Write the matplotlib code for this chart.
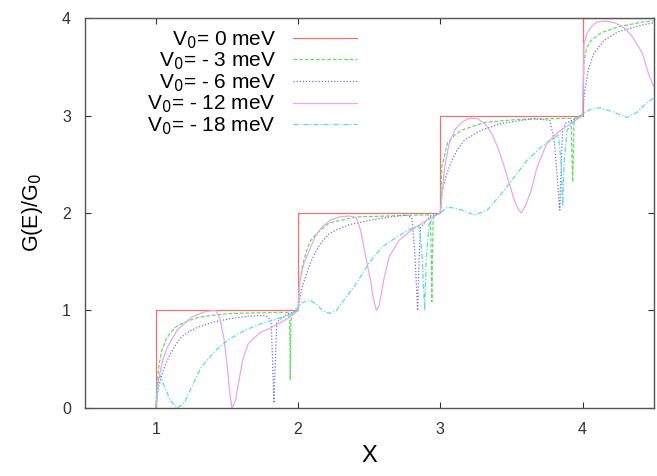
import matplotlib
matplotlib.use("Agg")
import matplotlib.pyplot as plt

plt.rcParams['font.family'] = ['Liberation Sans', 'DejaVu Sans']

# V0 = 0 meV : ideal staircase
x_v0 = [1.0, 1.0, 2.0, 2.0, 3.0, 3.0, 4.0, 4.0, 4.5]
g_v0 = [0, 1, 1, 2, 2, 3, 3, 4, 4]

# V0 = -3 meV
x_v3 = [1.0, 1.01, 1.02, 1.04, 1.07, 1.10, 1.14, 1.20, 1.30, 1.42, 1.54, 1.70, 1.89, 1.93, 1.94, 1.945, 1.95, 1.96, 2.0,
        2.01, 2.03, 2.06, 2.09, 2.13, 2.22, 2.41, 2.64, 2.87, 2.93, 2.935, 2.94, 2.945, 2.95, 3.0,
        3.01, 3.05, 3.10, 3.15, 3.31, 3.54, 3.85, 3.92, 3.925, 3.93, 3.935, 3.94, 4.0,
        4.005, 4.01, 4.03, 4.06, 4.13, 4.25, 4.42, 4.5]
g_v3 = [0, 0.25, 0.42, 0.58, 0.70, 0.77, 0.83, 0.88, 0.93, 0.955, 0.97, 0.975, 0.98, 0.98, 0.9, 0.29, 0.9, 0.97, 1.0,
        1.28, 1.45, 1.62, 1.72, 1.79, 1.90, 1.96, 1.97, 1.98, 1.98, 1.6, 1.09, 1.6, 1.97, 2.0,
        2.47, 2.72, 2.80, 2.85, 2.93, 2.96, 2.97, 2.97, 2.6, 2.32, 2.6, 2.97, 3.0,
        3.3, 3.55, 3.70, 3.77, 3.85, 3.91, 3.96, 3.97]

# V0 = -6 meV
x_v6 = [1.0, 1.02, 1.05, 1.09, 1.13, 1.18, 1.24, 1.30, 1.40, 1.54, 1.65, 1.77, 1.81, 1.82, 1.83, 1.84, 1.85, 1.92, 2.0,
        2.01, 2.03, 2.06, 2.09, 2.13, 2.17, 2.22, 2.29, 2.36, 2.52, 2.65, 2.76, 2.80, 2.82, 2.84, 2.85, 2.86, 2.93, 3.0,
        3.01, 3.04, 3.08, 3.12, 3.17, 3.29, 3.43, 3.66, 3.77, 3.80, 3.82, 3.84, 3.85, 3.86, 3.88, 3.94, 4.0,
        4.01, 4.04, 4.08, 4.15, 4.25, 4.42, 4.5]
g_v6 = [0, 0.22, 0.38, 0.52, 0.63, 0.73, 0.79, 0.83, 0.88, 0.92, 0.94, 0.95, 0.9, 0.5, 0.05, 0.5, 0.88, 0.96, 1.0,
        1.11, 1.25, 1.38, 1.50, 1.62, 1.71, 1.79, 1.84, 1.88, 1.93, 1.96, 1.98, 1.95, 1.6, 1.0, 1.5, 1.85, 1.97, 2.0,
        2.2, 2.38, 2.54, 2.65, 2.75, 2.85, 2.92, 2.97, 2.95, 2.75, 2.4, 2.03, 2.5, 2.85, 2.92, 2.96, 3.0,
        3.2, 3.47, 3.64, 3.77, 3.86, 3.93, 3.95]

# V0 = -12 meV
x_v12 = [1.0, 1.02, 1.05, 1.08, 1.15, 1.25, 1.35, 1.42, 1.45, 1.48, 1.50, 1.52, 1.535, 1.56, 1.61, 1.65, 1.73, 1.82, 1.93, 2.0,
         2.01, 2.04, 2.08, 2.12, 2.17, 2.23, 2.29, 2.36, 2.41, 2.44, 2.48, 2.51, 2.53, 2.55, 2.57, 2.60, 2.64, 2.71, 2.80, 2.90, 3.0,
         3.03, 3.06, 3.10, 3.15, 3.20, 3.26, 3.31, 3.36, 3.41, 3.45, 3.49, 3.52, 3.55, 3.57, 3.60, 3.64, 3.68, 3.75, 3.82, 3.90, 4.0,
         4.01, 4.03, 4.06, 4.10, 4.16, 4.23, 4.30, 4.35, 4.42, 4.47, 4.5]
g_v12 = [0, 0.3, 0.5, 0.62, 0.8, 0.93, 0.99, 1.0, 0.92, 0.7, 0.45, 0.15, 0.0, 0.08, 0.49, 0.66, 0.77, 0.83, 0.92, 1.0,
         1.28, 1.48, 1.62, 1.76, 1.86, 1.93, 1.96, 1.97, 1.95, 1.82, 1.52, 1.3, 1.12, 1.0, 1.05, 1.3, 1.55, 1.72, 1.83, 1.92, 2.0,
         2.47, 2.7, 2.85, 2.93, 2.97, 2.97, 2.92, 2.82, 2.65, 2.47, 2.28, 2.13, 2.03, 2.0, 2.08, 2.24, 2.47, 2.72, 2.82, 2.9, 3.0,
         3.74, 3.84, 3.91, 3.96, 3.97, 3.95, 3.89, 3.81, 3.64, 3.40, 3.3]

# V0 = -18 meV
x_v18 = [1.0, 1.01, 1.03, 1.06, 1.10, 1.15, 1.20, 1.23, 1.28, 1.32, 1.42, 1.51, 1.63, 1.75, 1.89, 1.96,
         2.03, 2.08, 2.13, 2.17, 2.22, 2.27, 2.31, 2.41, 2.50, 2.59, 2.69, 2.78, 2.85, 2.87, 2.89, 2.90, 2.92, 2.96,
         3.0, 3.05, 3.10, 3.15, 3.24, 3.33, 3.43, 3.52, 3.61, 3.71, 3.78, 3.83, 3.85, 3.86, 3.87, 3.89, 3.94,
         3.98, 4.05, 4.12, 4.21, 4.31, 4.38, 4.45, 4.5]
g_v18 = [0, 0.25, 0.33, 0.22, 0.08, 0.0, 0.05, 0.15, 0.3, 0.42, 0.59, 0.70, 0.80, 0.87, 0.93, 0.97,
         1.08, 1.11, 1.06, 1.0, 0.97, 1.0, 1.08, 1.28, 1.49, 1.65, 1.75, 1.83, 1.87, 1.6, 1.0, 1.5, 1.88, 1.97,
         2.0, 2.06, 2.05, 2.03, 1.98, 2.03, 2.2, 2.37, 2.54, 2.68, 2.75, 2.8, 2.5, 2.07, 2.5, 2.85, 2.94,
         3.0, 3.06, 3.08, 3.04, 2.98, 3.03, 3.13, 3.18]

labels = ['V$_0$= 0 meV', 'V$_0$= - 3 meV', 'V$_0$= - 6 meV', 'V$_0$= - 12 meV', 'V$_0$= - 18 meV']

fig = plt.figure(figsize=(6.57, 4.76), dpi=100)
ax = fig.add_axes([0.129, 0.143, 0.866, 0.819])

ax.plot(x_v0, g_v0, color='#f07272', lw=0.9, ls='-', label=labels[0])
ax.plot(x_v3, g_v3, color='#66dd66', lw=0.9, ls=(0, (3, 1.5)), label=labels[1])
ax.plot(x_v6, g_v6, color='#7272e0', lw=0.9, ls=(0, (1, 1.5)), label=labels[2])
ax.plot(x_v12, g_v12, color='#eaa6ee', lw=0.9, ls='-', label=labels[3])
ax.plot(x_v18, g_v18, color='#5cdcdc', lw=0.9, ls=(0, (4, 1.5, 1, 1.5)), label=labels[4])

ax.set_xlim(0.5, 4.5)
ax.set_ylim(0, 4)
ax.set_xticks([1, 2, 3, 4])
ax.set_yticks([0, 1, 2, 3, 4])
ax.tick_params(direction='in', length=4, top=True, right=True, labelsize=11.5,
               colors='#333333', pad=10)
for s in ax.spines.values():
    s.set_color('#555555')
    s.set_linewidth(1.0)

ax.set_xlabel('X', fontsize=17, labelpad=6)
ax.set_ylabel('G(E)/G$_0$', fontsize=15.5, labelpad=12)

leg = ax.legend(loc='upper right', bbox_to_anchor=(0.479, 0.972), frameon=False, markerfirst=False,
                fontsize=15, handlelength=3.1, handletextpad=0.8, labelspacing=0.0,
                borderpad=0.0, borderaxespad=0.0)

fig.savefig('out.png', dpi=100)
